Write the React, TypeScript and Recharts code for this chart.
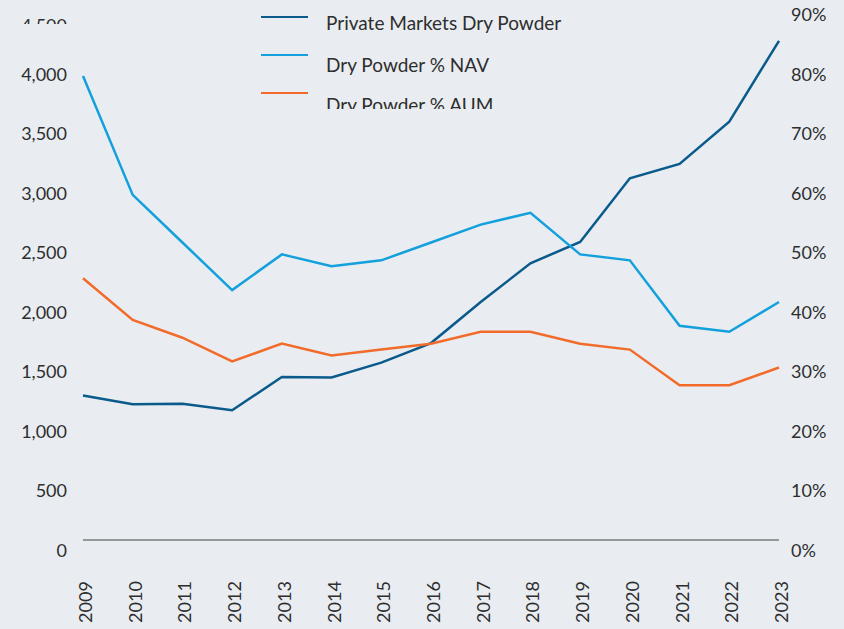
import React from 'react';
import { LineChart, Line, XAxis, YAxis } from 'recharts';

const years = ['2009', '2010', '2011', '2012', '2013', '2014', '2015', '2016', '2017', '2018', '2019', '2020', '2021', '2022', '2023'];
const dryPowder = [1215, 1140, 1145, 1090, 1370, 1365, 1490, 1655, 2000, 2325, 2505, 3040, 3160, 3515, 4195];
const navPct = [78, 58, 50, 42, 48, 46, 47, 50, 53, 55, 48, 47, 36, 35, 40];
const aumPct = [44, 37, 34, 30, 33, 31, 32, 33, 35, 35, 33, 32, 26, 26, 29];

const leftTicks = [0, 500, 1000, 1500, 2000, 2500, 3000, 3500, 4000, 4500];
const rightTicks = [0, 10, 20, 30, 40, 50, 60, 70, 80, 90];

const seriesNames = ['Private Markets Dry Powder', 'Dry Powder % NAV', 'Dry Powder % AUM'];
const seriesColors = ['#0a5a8c', '#13a0dc', '#f26b2a'];

const BG = '#e9edf1';
const TEXT = '#2e2e2e';
const FONT = 'Lato, "Open Sans", sans-serif';

const data = years.map((y, i) => ({
  year: y,
  dry: dryPowder[i],
  nav: navPct[i],
  aum: aumPct[i],
}));

const LeftTick = ({ x, y, payload }: any) => {
  const label = Number(payload.value).toLocaleString('en-US');
  if (payload.value === 4500) {
    // top label is partly cut off in the source
    return (
      <g>
        <defs>
          <clipPath id="topTickClip">
            <rect x={0} y={0} width={100} height={24} />
          </clipPath>
        </defs>
        <text x={x} y={y + 20} textAnchor="end" dominantBaseline="central" fill={TEXT} fontSize={18} fontFamily={FONT} clipPath="url(#topTickClip)">
          {label}
        </text>
      </g>
    );
  }
  return (
    <text x={x} y={y + 9.5} textAnchor="end" dominantBaseline="central" fill={TEXT} fontSize={18} fontFamily={FONT}>
      {label}
    </text>
  );
};

const RightTick = ({ x, y, payload }: any) => (
  <text x={x} y={y + 9.5} textAnchor="start" dominantBaseline="central" fill={TEXT} fontSize={18} fontFamily={FONT}>
    {`${payload.value}%`}
  </text>
);

const YearTick = ({ x, payload }: any) => (
  <text
    x={x + 2}
    y={602}
    transform={`rotate(-90 ${x + 2} 602)`}
    textAnchor="middle"
    dominantBaseline="central"
    fill={TEXT}
    fontSize={18}
    fontFamily={FONT}
  >
    {payload.value}
  </text>
);

const legendLineY = [17, 55, 93];
const legendTextTop = [11, 53, 93];

export default function App() {
  return (
    <div style={{ position: 'absolute', left: 0, top: 0, width: 844, height: 629, background: BG, overflow: 'hidden' }}>
      <LineChart width={844} height={629} data={data} margin={{ top: 4.5, right: 0, left: 0, bottom: 0 }}>
        <XAxis
          dataKey="year"
          height={89}
          axisLine={{ stroke: '#7a7a7a', strokeWidth: 1.5 }}
          tickLine={false}
          tick={<YearTick />}
          interval={0}
        />
        <YAxis
          yAxisId="left"
          width={83}
          domain={[0, 4500]}
          ticks={leftTicks}
          axisLine={false}
          tickLine={false}
          tickSize={0}
          tickMargin={16}
          tick={<LeftTick />}
          interval={0}
        />
        <YAxis
          yAxisId="right"
          orientation="right"
          width={65}
          domain={[0, 90]}
          ticks={rightTicks}
          axisLine={false}
          tickLine={false}
          tickSize={0}
          tickMargin={12}
          tick={<RightTick />}
          interval={0}
        />
        <Line yAxisId="left" type="linear" dataKey="dry" name={seriesNames[0]} stroke={seriesColors[0]} strokeWidth={2.5} dot={false} isAnimationActive={false} />
        <Line yAxisId="right" type="linear" dataKey="nav" name={seriesNames[1]} stroke={seriesColors[1]} strokeWidth={2.5} dot={false} isAnimationActive={false} />
        <Line yAxisId="right" type="linear" dataKey="aum" name={seriesNames[2]} stroke={seriesColors[2]} strokeWidth={2.5} dot={false} isAnimationActive={false} />
      </LineChart>
      <div style={{ position: 'absolute', left: 0, top: 0, width: 844, height: 109, overflow: 'hidden', fontFamily: FONT, fontSize: 19, color: TEXT }}>
        {seriesNames.map((name, i) => (
          <React.Fragment key={name}>
            <div style={{ position: 'absolute', left: 261, top: legendLineY[i] - 1.25, width: 47, height: 2.5, background: seriesColors[i] }} />
            <div style={{ position: 'absolute', left: 326, top: legendTextTop[i], lineHeight: '23px', whiteSpace: 'nowrap' }}>{name}</div>
          </React.Fragment>
        ))}
      </div>
    </div>
  );
}
